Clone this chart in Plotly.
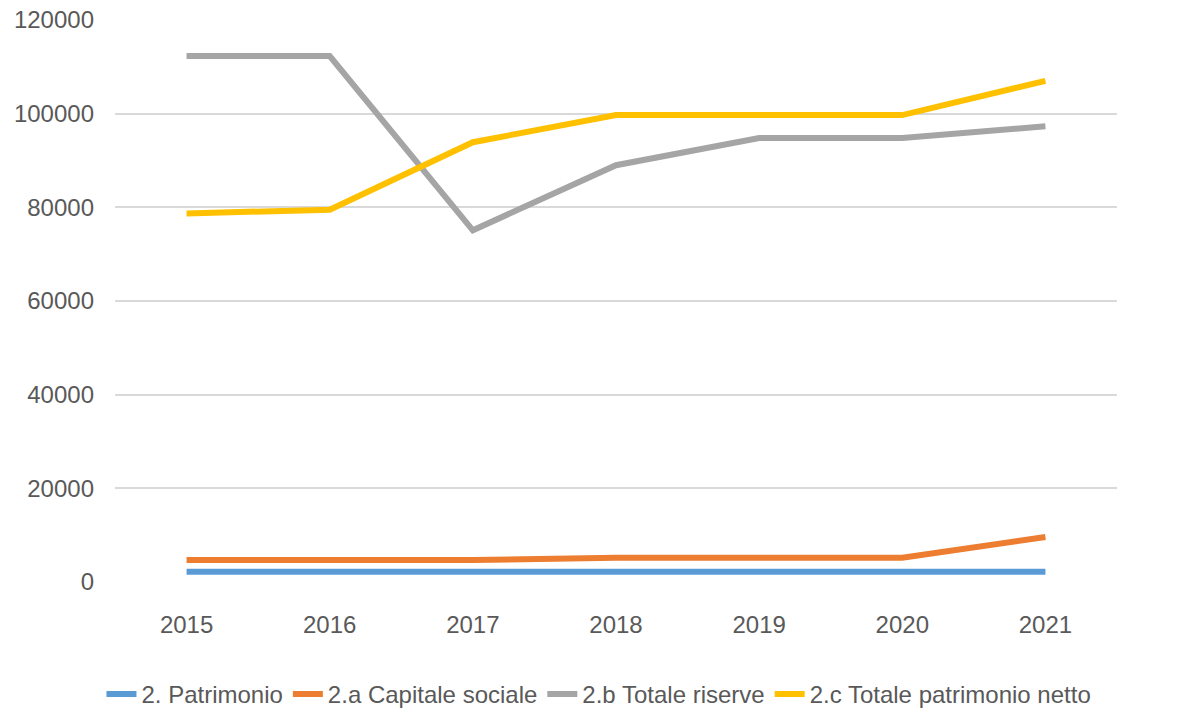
import plotly.graph_objects as go

years = ["2015", "2016", "2017", "2018", "2019", "2020", "2021"]
patrimonio = [2200, 2200, 2200, 2200, 2200, 2200, 2200]
capitale_sociale = [4700, 4700, 4700, 5200, 5200, 5200, 9600]
totale_riserve = [112300, 112300, 75100, 89000, 94800, 94800, 97300]
totale_patrimonio_netto = [78700, 79500, 93900, 99700, 99700, 99700, 107000]

series_names = ["2. Patrimonio", "2.a Capitale sociale", "2.b Totale riserve", "2.c Totale patrimonio netto"]
series_values = [patrimonio, capitale_sociale, totale_riserve, totale_patrimonio_netto]
colors = ["#5b9bd5", "#ed7d31", "#a5a5a5", "#ffc000"]

FONT = "Liberation Sans Narrow, Arial Narrow, Liberation Sans, sans-serif"

fig = go.Figure()
for name, vals, col in zip(series_names, series_values, colors):
    fig.add_trace(go.Scatter(x=years, y=vals, mode="lines", name=name,
                             line=dict(color=col, width=6)))

fig.update_layout(
    width=1191, height=717,
    margin=dict(l=115, r=74, t=20, b=135, autoexpand=False),
    paper_bgcolor="white", plot_bgcolor="white",
    font=dict(family=FONT, size=24, color="#595959"),
    legend=dict(orientation="h", x=0.483, xref="paper", xanchor="center",
                y=-0.16, yref="paper", yanchor="top",
                font=dict(size=24, color="#595959"),
                itemwidth=30, tracegroupgap=0),
    showlegend=True,
)
fig.update_xaxes(type="category", range=[-0.5, 6.5], showgrid=False, zeroline=False,
                 showline=False, ticks="", ticklabelstandoff=26)
fig.update_yaxes(range=[0, 120000], dtick=20000, showgrid=True, gridcolor="#d9d9d9",
                 gridwidth=2, zeroline=False, showline=False, ticks="",
                 tickformat="d", ticklabelstandoff=20)

fig.write_html("out.html")
